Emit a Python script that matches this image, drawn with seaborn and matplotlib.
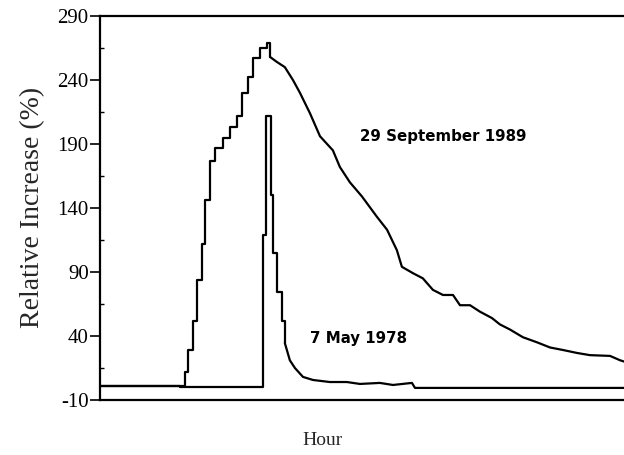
import numpy as np
import pandas as pd
import matplotlib
matplotlib.use('Agg')
import matplotlib.pyplot as plt
import seaborn as sns

# values: hour (0-24 across the plot) and relative increase (%)
# rising parts are a clear staircase, the decays are a fine jagged line
sep89_rise_hour = [0.00, 3.80, 3.89, 4.03, 4.26, 4.44, 4.67, 4.81, 5.04, 5.27, 5.63, 5.95,
                   6.27, 6.50, 6.78, 7.01, 7.33, 7.65, 7.79]
sep89_rise_val = [1, 1, 12, 29, 52, 84, 112, 146, 177, 187, 195, 203,
                  212, 230, 242, 257, 265, 269, 258]
sep89_decay_hour = [7.79, 8.11, 8.47, 8.84, 9.16, 9.62, 10.08, 10.67, 10.99, 11.45, 12.00,
                    12.69, 13.15, 13.60, 13.83, 14.34, 14.79, 15.25, 15.71, 16.17, 16.49,
                    16.95, 17.40, 17.95, 18.32, 18.78, 19.37, 20.02, 20.61, 21.21, 21.85,
                    22.44, 23.36, 23.82, 24.00]
sep89_decay_val = [258, 254, 250, 240, 230, 214, 196, 185, 172, 160, 149,
                   133, 123, 107, 94, 89, 85, 76, 72, 72, 64,
                   64, 59, 54, 49, 45, 39, 35, 31, 29, 26.7,
                   25, 24.4, 21, 20]

may78_rise_hour = [0.00, 3.66, 7.47, 7.60, 7.83, 7.93, 8.11, 8.34, 8.47]
may78_rise_val = [1, 0.5, 119, 212, 150, 105, 74, 52, 34.5]
may78_decay_hour = [8.47, 8.70, 8.93, 9.30, 9.76, 10.53, 11.31, 11.91, 12.82, 13.42,
                    14.29, 14.43, 24.00]
may78_decay_val = [34.5, 21, 15, 8, 5.6, 4, 4, 2.5, 3.3, 1.7,
                   3.3, -0.6, -0.6]

yticks = [-10, 40, 90, 140, 190, 240, 290]
labels = {'29 September 1989': (11.91, 196), '7 May 1978': (9.62, 38)}

steps = pd.concat([
    pd.DataFrame({'hour': sep89_rise_hour, 'val': sep89_rise_val, 'event': 'sep89'}),
    pd.DataFrame({'hour': may78_rise_hour, 'val': may78_rise_val, 'event': 'may78'}),
])
decay = pd.concat([
    pd.DataFrame({'hour': sep89_decay_hour, 'val': sep89_decay_val, 'event': 'sep89'}),
    pd.DataFrame({'hour': may78_decay_hour, 'val': may78_decay_val, 'event': 'may78'}),
])

sns.set_style('ticks', {'axes.edgecolor': 'black', 'text.color': 'black',
                        'xtick.color': 'black', 'ytick.color': 'black'})
plt.rcParams['font.family'] = ['Liberation Serif', 'DejaVu Serif']
plt.rcParams['axes.unicode_minus'] = False

fig = plt.figure(figsize=(6.24, 4.55), dpi=100)
ax = fig.add_axes([0.160, 0.121, 0.84, 0.844])
sns.lineplot(data=steps, x='hour', y='val', units='event', estimator=None,
             color='black', lw=1.6, drawstyle='steps-post', ax=ax, legend=False)
sns.lineplot(data=decay, x='hour', y='val', units='event', estimator=None,
             color='black', lw=1.6, ax=ax, legend=False)

for txt, (x, y) in labels.items():
    ax.text(x, y, txt, fontsize=10.8, fontweight='bold', family='DejaVu Sans', va='center')

ax.set_xlim(0, 24); ax.set_ylim(-10, 290)
ax.set_xticks([])
ax.set_yticks(yticks)
ax.set_yticks([v + 25 for v in yticks[:-1]], minor=True)
ax.tick_params(axis='y', which='major', labelsize=15, length=7, width=1.2, pad=1, direction='out')
ax.tick_params(axis='y', which='minor', length=3, width=1, direction='in')
for s in ['top', 'bottom', 'left']:
    ax.spines[s].set_linewidth(1.6)
ax.spines['right'].set_visible(False)

ax.set_ylabel('Relative Increase (%)', fontsize=20, labelpad=9)
ax.set_xlabel('Hour', fontsize=14, x=0.424, labelpad=23)

fig.savefig('out.png', dpi=100)
